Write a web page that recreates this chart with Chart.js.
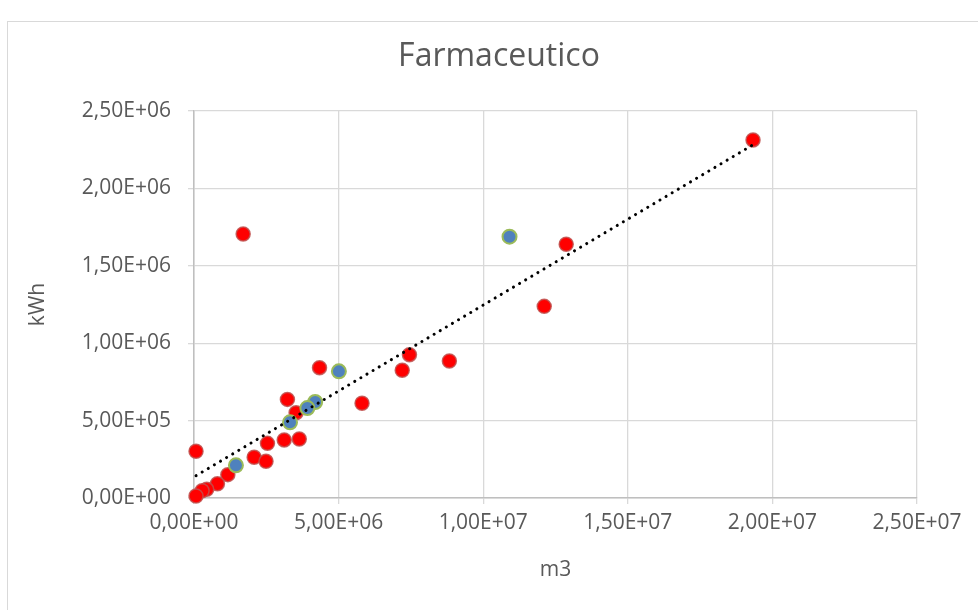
<!DOCTYPE html>
<html>
<head>
<meta charset="utf-8">
<script src="https://cdn.jsdelivr.net/npm/chart.js@4"></script>
<style>
  html, body { margin: 0; padding: 0; background: #fff; }
  #wrap { position: relative; width: 978px; height: 610px; overflow: hidden; }
  #frame { position: absolute; left: 7px; top: 21px; width: 1100px; height: 800px; border: 1.5px solid #d9d9d9; box-sizing: border-box; }
  canvas { position: absolute; left: 0; top: 0; }
</style>
</head>
<body>
<div id="wrap">
  <div id="frame"></div>
  <canvas id="chart" width="978" height="610"></canvas>
</div>
<script>
// values (m3 vs kWh)
const redX = [19.33e6, 1.70e6, 12.87e6, 12.11e6, 7.45e6, 8.83e6, 7.20e6, 4.34e6, 5.81e6, 3.23e6, 3.53e6,
              0.07e6, 2.54e6, 3.12e6, 3.64e6, 2.08e6, 2.49e6, 1.17e6, 0.81e6, 0.44e6, 0.28e6, 0.07e6];
const redY = [2.313e6, 1.705e6, 1.639e6, 1.238e6, 0.926e6, 0.885e6, 0.825e6, 0.842e6, 0.612e6, 0.637e6, 0.551e6,
              0.302e6, 0.353e6, 0.375e6, 0.381e6, 0.263e6, 0.237e6, 0.151e6, 0.092e6, 0.056e6, 0.047e6, 0.013e6];
const blueX = [10.91e6, 5.01e6, 4.19e6, 3.92e6, 3.32e6, 1.45e6];
const blueY = [1.688e6, 0.818e6, 0.620e6, 0.581e6, 0.489e6, 0.211e6];
// trendline ends (linear, red series)
const trendX = [0.07e6, 19.33e6];
const trendY = [0.144e6, 2.282e6];

const xTicks = [0, 5e6, 1e7, 1.5e7, 2e7, 2.5e7];
const yTicks = [0, 5e5, 1e6, 1.5e6, 2e6, 2.5e6];
const chartTitle = 'Farmaceutico';

const pts = (xs, ys) => xs.map((x, i) => ({ x: x, y: ys[i] }));

function sci(v) {
  if (v === 0) return "0,00E+00";
  const [m, e] = v.toExponential(2).split('e');
  const n = parseInt(e, 10);
  return m.replace('.', ',') + 'E' + (n < 0 ? '-' : '+') + String(Math.abs(n)).padStart(2, '0');
}

const FONT = "'Open Sans', 'DejaVu Sans', sans-serif";
const txt = '#595959';

// title centred on the whole frame, not on the plot
const titlePlugin = {
  id: 'frameTitle',
  afterDraw(chart) {
    const ctx = chart.ctx;
    ctx.save();
    ctx.font = "32px " + FONT;
    ctx.fillStyle = txt;
    ctx.textAlign = 'center';
    ctx.textBaseline = 'middle';
    ctx.fillText(chartTitle, 499, 57);
    ctx.restore();
  }
};

new Chart(document.getElementById('chart'), {
  type: 'scatter',
  data: {
    datasets: [
      { label: 'trend', data: pts(trendX, trendY), showLine: true, pointRadius: 0, clip: false,
        borderColor: '#000', borderWidth: 3, borderDash: [0.1, 7], borderCapStyle: 'round', order: 0 },
      { label: 'B', data: pts(blueX, blueY), pointRadius: 7, backgroundColor: '#4f81bd', clip: false,
        borderColor: '#9bbb59', borderWidth: 2, order: 1 },
      { label: 'A', data: pts(redX, redY), pointRadius: 7, backgroundColor: '#ff0000', clip: false,
        borderColor: 'rgba(192,80,77,0.85)', borderWidth: 1.5, order: 2 }
    ]
  },
  options: {
    responsive: false, animation: false,
    layout: { padding: { left: 0, right: 61, top: 111, bottom: 0 } },
    plugins: { legend: { display: false }, tooltip: { enabled: false }, title: { display: false } },
    scales: {
      x: {
        type: 'linear', min: 0, max: 2.5e7,
        afterBuildTicks: s => { s.ticks = xTicks.map(v => ({ value: v })); },
        afterFit: s => { s.height = 112; },
        ticks: { callback: v => sci(v), color: txt, font: { family: FONT, size: 21 }, padding: 6, maxRotation: 0 },
        grid: { color: '#d9d9d9', tickLength: 6, lineWidth: 1.3 },
        border: { color: '#bfbfbf', width: 1.5 },
        title: { display: true, text: 'm3', color: txt, font: { family: FONT, size: 21 }, padding: { top: 0, bottom: 27 } }
      },
      y: {
        type: 'linear', min: 0, max: 2.5e6,
        afterBuildTicks: s => { s.ticks = yTicks.map(v => ({ value: v })); },
        afterFit: s => { s.width = 194; },
        ticks: { callback: v => sci(v), color: txt, font: { family: FONT, size: 21 }, padding: 17 },
        grid: { color: '#d9d9d9', tickLength: 6, lineWidth: 1.3 },
        border: { color: '#bfbfbf', width: 1.5 },
        title: { display: true, text: 'kWh', color: txt, font: { family: FONT, size: 21 }, padding: { top: 25, bottom: 0 } }
      }
    }
  },
  plugins: [titlePlugin]
});
</script>
</body>
</html>
